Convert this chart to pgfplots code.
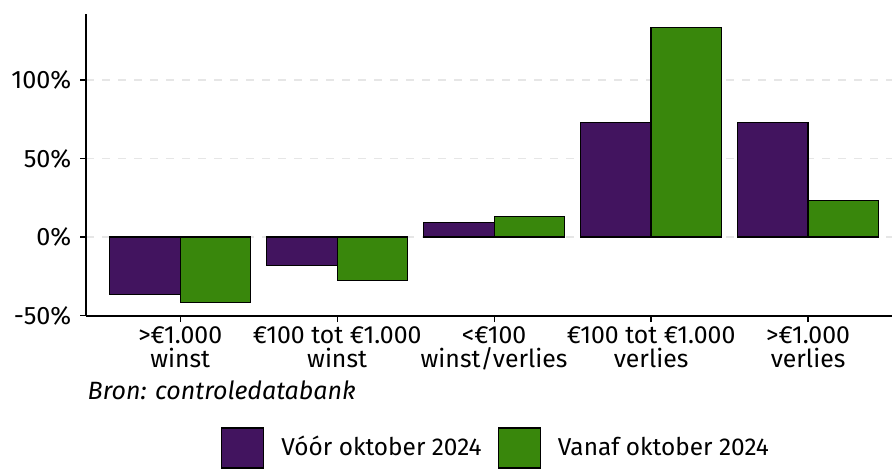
\documentclass[border=0pt]{standalone}
\usepackage{fontspec}
\setmainfont{Fira Sans}
\usepackage{pgfplots}
\pgfplotsset{compat=1.18}
\definecolor{paars}{HTML}{42145F}
\definecolor{groen}{HTML}{39870C}
\definecolor{rasterg}{HTML}{E6E6E6}
\begin{document}
\begin{tikzpicture}
\fontsize{12.5}{13}\selectfont
\useasboundingbox (-43pt,-76pt) rectangle (403pt,158pt);
\begin{axis}[
  at={(0,0)}, anchor=south west,
  scale only axis,
  width=403pt, height=151pt,
  xmin=-0.6, xmax=4.535,
  ymin=-50.3, ymax=142,
  axis x line*=bottom, axis y line*=left,
  axis line style={line width=0.8pt},
  xtick={0,1,2,3,4},
  xticklabels={{>€1.000\\winst},{€100 tot €1.000\\winst},{<€100\\winst/verlies},{€100 tot €1.000\\verlies},{>€1.000\\verlies}},
  x tick label style={align=center, font=\fontsize{12.4}{12}\selectfont, yshift=2pt},
  ytick={-50,0,50,100},
  yticklabels={-50\%,0\%,50\%,100\%},
  y tick label style={font=\fontsize{12.6}{12}\selectfont},
  tick align=outside,
  major tick length=3pt,
  tick style={line width=0.6pt, black},
  ymajorgrids,
  grid style={rasterg, line width=0.6pt, dash pattern=on 4pt off 4pt},
  ybar=0pt, bar width=35.25pt,
  legend style={at={(0.51,-0.437)}, anchor=center, draw=none, fill=none,
    legend columns=2, /tikz/every even column/.append style={column sep=6pt},
    font=\fontsize{12.2}{12}\selectfont},
  legend image code/.code={\draw[#1] (0pt,-10pt) rectangle (21pt,10pt); \path (27.5pt,0pt);},
]
\addplot[fill=paars, draw=black, line width=0.6pt] coordinates {
(0,-36.7) (1,-18.1) (2,9.1) (3,72.8) (4,72.8)
};
\addlegendentry{Vóór oktober 2024}
\addplot[fill=groen, draw=black, line width=0.6pt] coordinates {
(0,-41.7) (1,-27.9) (2,13.1) (3,133.3) (4,23.1)
};
\addlegendentry{Vanaf oktober 2024}
\end{axis}
\node[anchor=west, font=\fontsize{12.5}{13}\selectfont\itshape] at (-3.5pt,-37pt) {Bron: controledatabank};
\end{tikzpicture}
\end{document}
